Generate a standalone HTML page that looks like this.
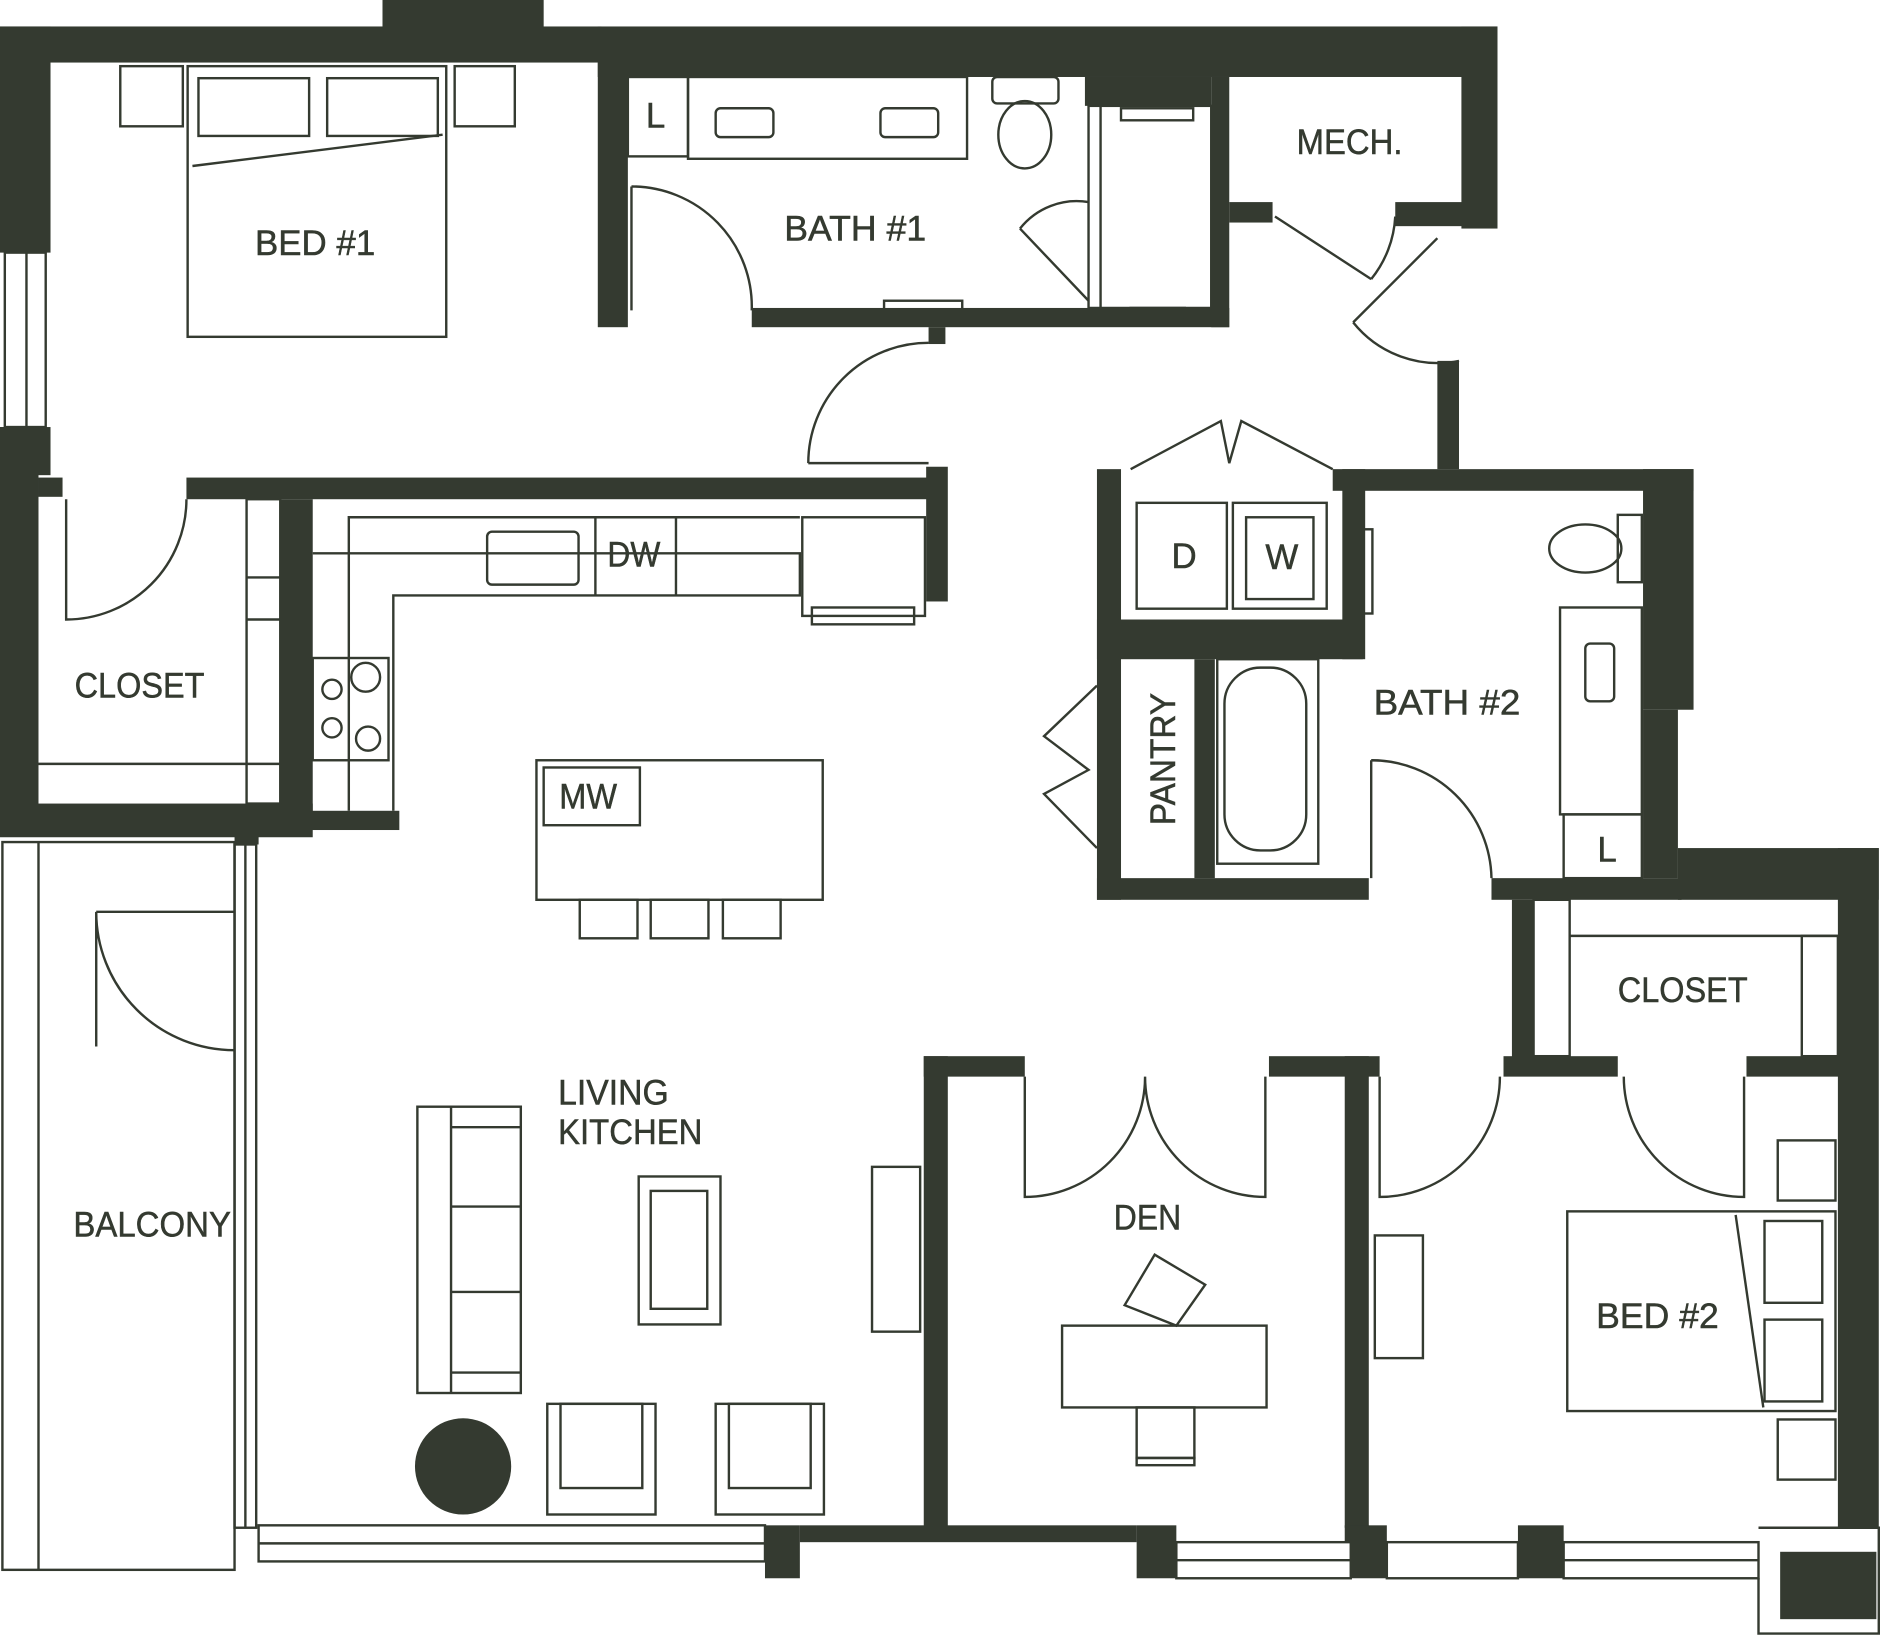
<!DOCTYPE html>
<html><head><meta charset="utf-8"><style>
html,body{margin:0;padding:0;background:#fff;}
svg{display:block;}
text{font-family:"Liberation Sans Narrow","Liberation Sans",sans-serif;fill:#343a30;font-size:29px;stroke:#343a30;stroke-width:0.4px;}
</style></head><body>
<svg width="1886" height="1636" viewBox="0 0 1568 1360" preserveAspectRatio="none" xmlns="http://www.w3.org/2000/svg">
<g fill="#343a30">
<rect x="0" y="22" width="500" height="30"/>
<rect x="318" y="0" width="134" height="24"/>
<rect x="497" y="22" width="748" height="42"/>
<rect x="1215" y="22" width="30" height="168"/>
<rect x="0" y="22" width="42" height="188"/>
<rect x="0" y="355" width="32" height="340"/>
<rect x="0" y="355" width="42" height="40"/>
<rect x="155" y="397" width="630" height="18"/>
<rect x="32" y="397" width="20" height="16"/>
<rect x="233" y="415" width="27" height="275"/>
<rect x="0" y="668" width="260" height="28"/>
<rect x="195" y="690" width="20" height="12"/>
<rect x="255" y="674" width="77" height="16"/>
<rect x="770" y="388" width="18" height="112"/>
<rect x="497" y="52" width="25" height="220"/>
<rect x="625" y="256" width="397" height="16"/>
<rect x="1007" y="64" width="15" height="208"/>
<rect x="902" y="64" width="105" height="24"/>
<rect x="1022" y="168" width="36" height="17"/>
<rect x="1160" y="168" width="85" height="20"/>
<rect x="772" y="272" width="14" height="14"/>
<rect x="1195" y="300" width="18" height="90"/>
<rect x="1108" y="390" width="300" height="18"/>
<rect x="912" y="390" width="20" height="358"/>
<rect x="912" y="515" width="221" height="33"/>
<rect x="1116" y="390" width="19" height="158"/>
<rect x="993" y="548" width="17" height="182"/>
<rect x="912" y="730" width="226" height="18"/>
<rect x="1366" y="390" width="42" height="200"/>
<rect x="1366" y="590" width="29" height="140"/>
<rect x="1240" y="730" width="158" height="18"/>
<rect x="1395" y="705" width="167" height="43"/>
<rect x="1528" y="705" width="34" height="565"/>
<rect x="1257" y="748" width="18" height="132"/>
<rect x="1250" y="878" width="95" height="17"/>
<rect x="1452" y="878" width="78" height="17"/>
<rect x="768" y="878" width="20" height="392"/>
<rect x="768" y="878" width="84" height="17"/>
<rect x="1055" y="878" width="92" height="17"/>
<rect x="1118" y="878" width="20" height="392"/>
<rect x="636" y="1268" width="29" height="44"/>
<rect x="665" y="1268" width="280" height="14"/>
<rect x="945" y="1268" width="33" height="44"/>
<rect x="1123" y="1268" width="30" height="44"/>
<rect x="1262" y="1268" width="38" height="44"/>
<rect x="1118" y="1268" width="20" height="14"/>
<rect x="1480" y="1290" width="80" height="56"/>
<circle cx="385" cy="1219" r="40"/>
</g>
<g fill="none" stroke="#343a30" stroke-width="2">
<rect x="4" y="210" width="34" height="145"/><line x1="22" y1="210" x2="22" y2="355"/>
<rect x="195" y="702" width="18" height="568"/>
<line x1="204" y1="702" x2="204" y2="1270"/>
<rect x="215" y="1268" width="421" height="30"/><line x1="215" y1="1283" x2="636" y2="1283"/>
<rect x="978" y="1282" width="145" height="30"/><line x1="978" y1="1297" x2="1123" y2="1297"/>
<rect x="1153" y="1282" width="109" height="30"/>
<rect x="1300" y="1282" width="162" height="30"/><line x1="1300" y1="1297" x2="1462" y2="1297"/>
<polyline points="1462,1270 1562,1270 1562,1358 1462,1358 1462,1312"/>
<rect x="2" y="700" width="193" height="605"/>
<line x1="32" y1="700" x2="32" y2="1305"/>
<path d="M80 758 L195 758 M80 758 A115 115 0 0 0 195 873 M80 758 L80 870"/>
<path d="M55 415 L55 515 A100 100 0 0 0 155 415"/>
<path d="M525 155 L525 258 M525 155 A100 100 0 0 1 625 258"/>
<path d="M672 385 L772 385 M672 385 A100 100 0 0 1 772 285"/>
<path d="M848 190 L905 250 M848 190 A60 60 0 0 1 905 168"/>
<path d="M1060 180 L1140 232 M1160 180 A90 90 0 0 1 1140 232"/>
<path d="M1125 268 L1195 198 M1125 268 A90 90 0 0 0 1213 300"/>
<path d="M1140 632 L1140 730 M1140 632 A100 100 0 0 1 1240 730"/>
<path d="M852 895 L852 995 A100 100 0 0 0 952 895 A100 100 0 0 0 1052 995 L1052 895"/>
<path d="M1147 895 L1147 995 A100 100 0 0 0 1247 895"/>
<path d="M1350 895 A100 100 0 0 0 1450 995 L1450 895"/>
<path d="M940 390 L1015 350 L1022 385 L1032 350 L1108 390"/>
<path d="M912 570 L868 612 L905 640 L868 660 L912 705"/>
<rect x="100" y="55" width="52" height="50"/><rect x="378" y="55" width="50" height="50"/>
<rect x="156" y="55" width="215" height="225"/>
<rect x="165" y="65" width="92" height="48"/><rect x="272" y="65" width="92" height="48"/>
<line x1="160" y1="138" x2="368" y2="112"/>
<rect x="205" y="415" width="28" height="253"/><line x1="205" y1="480" x2="233" y2="480"/><line x1="205" y1="515" x2="233" y2="515"/>
<line x1="32" y1="635" x2="233" y2="635"/>
<rect x="522" y="64" width="50" height="66"/><rect x="572" y="64" width="232" height="68"/>
<rect x="595" y="90" width="48" height="24" rx="4"/><rect x="732" y="90" width="48" height="24" rx="4"/>
<rect x="825" y="64" width="55" height="22" rx="4"/><ellipse cx="852" cy="112" rx="22" ry="28"/>
<rect x="905" y="88" width="102" height="168"/><line x1="915" y1="88" x2="915" y2="256"/>
<rect x="932" y="90" width="60" height="10"/><rect x="940" y="256" width="45" height="10"/>
<rect x="735" y="250" width="65" height="8"/>
<polyline points="260,460 665,460 665,495 327,495 327,674"/>
<polyline points="290,674 290,430 665,430"/>
<rect x="405" y="442" width="76" height="44" rx="4"/>
<line x1="495" y1="430" x2="495" y2="495"/><line x1="562" y1="430" x2="562" y2="495"/>
<rect x="667" y="430" width="102" height="82"/><rect x="675" y="505" width="85" height="14"/>
<rect x="260" y="547" width="63" height="85"/>
<circle cx="276" cy="573" r="8"/><circle cx="304" cy="563" r="12"/><circle cx="276" cy="605" r="8"/><circle cx="306" cy="614" r="10"/>
<rect x="446" y="632" width="238" height="116"/><rect x="452" y="638" width="80" height="48"/>
<rect x="482" y="748" width="48" height="32"/><rect x="541" y="748" width="48" height="32"/><rect x="601" y="748" width="48" height="32"/>
<rect x="945" y="418" width="75" height="88"/><rect x="1025" y="418" width="78" height="88"/><rect x="1036" y="430" width="56" height="68"/>
<rect x="1133" y="440" width="8" height="70"/>
<rect x="1012" y="548" width="84" height="170"/><rect x="1018" y="555" width="68" height="152" rx="30"/>
<rect x="1345" y="428" width="20" height="56"/><ellipse cx="1318" cy="456" rx="30" ry="20"/>
<rect x="1297" y="505" width="68" height="172"/><rect x="1318" y="535" width="24" height="48" rx="4"/>
<rect x="1300" y="677" width="65" height="53"/>
<rect x="1275" y="748" width="30" height="130"/><rect x="1498" y="778" width="30" height="100"/><line x1="1305" y1="778" x2="1528" y2="778"/>
<rect x="347" y="920" width="86" height="238"/><line x1="375" y1="920" x2="375" y2="1158"/>
<line x1="375" y1="937" x2="433" y2="937"/><line x1="375" y1="1003" x2="433" y2="1003"/><line x1="375" y1="1074" x2="433" y2="1074"/><line x1="375" y1="1141" x2="433" y2="1141"/>
<rect x="531" y="978" width="68" height="123"/><rect x="541" y="990" width="47" height="98"/>
<rect x="725" y="970" width="40" height="137"/>
<rect x="455" y="1167" width="90" height="92"/><rect x="466" y="1167" width="68" height="70"/>
<rect x="595" y="1167" width="90" height="92"/><rect x="606" y="1167" width="68" height="70"/>
<rect x="883" y="1102" width="170" height="68"/>
<rect x="945" y="1170" width="48" height="42"/><rect x="945" y="1212" width="48" height="6"/>
<polygon points="935,1085 960,1043 1002,1068 978,1102"/>
<rect x="1143" y="1027" width="40" height="102"/>
<rect x="1478" y="948" width="48" height="50"/><rect x="1478" y="1180" width="48" height="50"/>
<rect x="1303" y="1007" width="223" height="166"/>
<rect x="1467" y="1015" width="48" height="68"/><rect x="1467" y="1097" width="48" height="68"/>
<line x1="1443" y1="1010" x2="1466" y2="1170"/>
</g>
<text x="212" y="212" textLength="100" lengthAdjust="spacingAndGlyphs">BED #1</text>
<text x="537" y="106" font-size="24">L</text>
<text x="652" y="200" textLength="118" lengthAdjust="spacingAndGlyphs">BATH #1</text>
<text x="1078" y="128" textLength="88" lengthAdjust="spacingAndGlyphs">MECH.</text>
<text x="62" y="580" textLength="108" lengthAdjust="spacingAndGlyphs">CLOSET</text>
<text x="505" y="471" textLength="44" lengthAdjust="spacingAndGlyphs">DW</text>
<text x="974" y="472">D</text>
<text x="1052" y="473">W</text>
<text x="465" y="672" textLength="48" lengthAdjust="spacingAndGlyphs">MW</text>
<text x="1142" y="594" textLength="122" lengthAdjust="spacingAndGlyphs">BATH #2</text>
<text x="1328" y="716" font-size="24">L</text>
<text x="1345" y="833" textLength="108" lengthAdjust="spacingAndGlyphs">CLOSET</text>
<text x="464" y="918" textLength="92" lengthAdjust="spacingAndGlyphs">LIVING</text>
<text x="464" y="951" textLength="120" lengthAdjust="spacingAndGlyphs">KITCHEN</text>
<text x="61" y="1028" textLength="131" lengthAdjust="spacingAndGlyphs">BALCONY</text>
<text x="926" y="1022" textLength="56" lengthAdjust="spacingAndGlyphs">DEN</text>
<text x="1327" y="1104" textLength="102" lengthAdjust="spacingAndGlyphs">BED #2</text>
<text transform="translate(977,686) rotate(-90)" textLength="110" lengthAdjust="spacingAndGlyphs">PANTRY</text>
</svg>
</body></html>
